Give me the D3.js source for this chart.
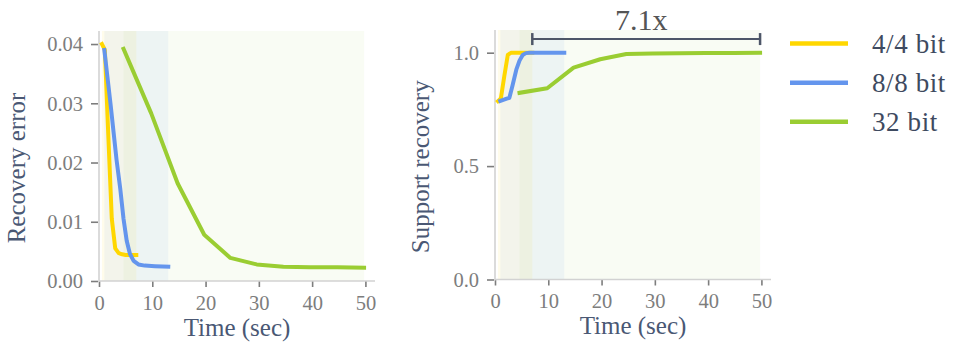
<!DOCTYPE html>
<html>
<head>
<meta charset="utf-8">
<script src="https://cdn.jsdelivr.net/npm/d3@7"></script>
<style>
  html, body { margin: 0; padding: 0; background: #ffffff; }
</style>
</head>
<body>
<svg id="chart" width="955" height="343"></svg>
<script>
// ---- data -------------------------------------------------------------
const seriesNames = ["4/4 bit", "8/8 bit", "32 bit"];

const time4 = [0.55, 1.1, 1.75, 2.4, 3.05, 3.7, 4.35, 5.0, 5.65, 6.3, 7.0];
const error4 = [0.0400, 0.0390, 0.0245, 0.0105, 0.0055, 0.0047, 0.0045, 0.0044, 0.0044, 0.0044, 0.0044];
const support4 = [0.786, 0.798, 0.897, 0.990, 1.0, 1.0, 1.0, 1.0, 1.0, 1.0, 1.0];

const time8 = [1.0, 2.2, 2.7, 3.3, 4.0, 4.6, 5.2, 5.8, 6.5, 7.4, 8.6, 10.5, 13.0];
const error8 = [0.0390, 0.0296, 0.0254, 0.0204, 0.0155, 0.0105, 0.0068, 0.0046, 0.0034, 0.0028, 0.0026, 0.0025, 0.0024];
const support8 = [0.787, 0.797, 0.801, 0.856, 0.925, 0.965, 0.990, 0.998, 1.0, 1.0, 1.0, 1.0, 1.0];

const time32 = [4.6, 9.8, 14.75, 19.75, 24.65, 29.6, 34.6, 39.6, 44.7, 49.75];
const error32 = [0.0392, 0.0283, 0.0165, 0.0078, 0.0039, 0.0028, 0.0024, 0.0023, 0.0023, 0.00225];
const support32 = [0.823, 0.843, 0.934, 0.971, 0.994, 0.996, 0.998, 0.999, 0.999, 1.0];

const xTicks = [0, 10, 20, 30, 40, 50];
const errorTicks = [0, 0.01, 0.02, 0.03, 0.04];
const supportTicks = [0, 0.5, 1.0];

// ---- styling ----------------------------------------------------------
const FONT = "'Liberation Serif', 'Times New Roman', serif";
const colors = ["#FFD700", "#6495ED", "#9ACD32"];
const spanAlpha = [0.08, 0.08, 0.055];
const tickColor = "#7d7d7d";
const titleColor = "#4a5874";
const legendColor = "#3e4a60";

const series = seriesNames.map((name, i) => ({
  name,
  color: colors[i],
  alpha: spanAlpha[i],
  time: [time4, time8, time32][i],
  error: [error4, error8, error32][i],
  support: [support4, support8, support32][i]
}));

const svg = d3.select("#chart").attr("font-family", FONT);

const panels = [
  { key: "error", left: 99, right: 375, top: 31, bottom: 281,
    yDomain: [0, 0.0422], yTicks: errorTicks, fmt: d3.format(".2f"),
    yTitle: "Recovery error", yTitleX: 25 },
  { key: "support", left: 495, right: 771, top: 30, bottom: 279.5,
    yDomain: [0, 1.1], yTicks: supportTicks, fmt: d3.format(".1f"),
    yTitle: "Support recovery", yTitleX: 429 }
];

panels.forEach(p => {
  const x = d3.scaleLinear().domain([0, 51.8]).range([p.left, p.right]);
  const y = d3.scaleLinear().domain(p.yDomain).range([p.bottom, p.top]);
  p.x = x; p.y = y;
  const g = svg.append("g");

  // time range covered by each run
  series.forEach(s => {
    const [t0, t1] = d3.extent(s.time);
    g.append("rect")
      .attr("x", x(t0)).attr("y", p.top)
      .attr("width", x(t1) - x(t0)).attr("height", p.bottom - p.top)
      .attr("fill", s.color).attr("fill-opacity", s.alpha);
  });

  // axes
  const xAxis = g.append("g").attr("transform", `translate(0,${p.bottom})`)
    .call(d3.axisBottom(x).tickValues(xTicks).tickSize(6).tickPadding(8).tickFormat(d3.format("d")));
  const yAxis = g.append("g").attr("transform", `translate(${p.left - 1},0)`)
    .call(d3.axisLeft(y).tickValues(p.yTicks).tickSize(7).tickPadding(8).tickFormat(p.fmt));
  [xAxis, yAxis].forEach(a => {
    a.attr("font-family", FONT);
    a.select(".domain").remove();
    a.selectAll(".tick line").attr("stroke", tickColor).attr("stroke-width", 1.6);
    a.selectAll(".tick text").attr("fill", tickColor).attr("font-family", FONT)
      .style("font-size", "20.5px");
  });
  xAxis.selectAll(".tick text").attr("dy", "0.71em");
  yAxis.selectAll(".tick text").attr("dy", "0.33em");

  // spines
  g.append("line").attr("x1", p.left).attr("x2", p.left)
    .attr("y1", p.top).attr("y2", p.bottom + 0.8)
    .attr("stroke", "#d2d2d2").attr("stroke-width", 1.6);
  g.append("line").attr("x1", p.left).attr("x2", p.right)
    .attr("y1", p.bottom).attr("y2", p.bottom)
    .attr("stroke", "#d2d2d2").attr("stroke-width", 1.6);

  // titles
  g.append("text").attr("x", (p.left + p.right) / 2).attr("y", p.bottom + 54.5)
    .attr("text-anchor", "middle").attr("fill", titleColor)
    .style("font-size", "25px").text("Time (sec)");
  g.append("text")
    .attr("transform", `translate(${p.yTitleX},${(p.top + p.bottom) / 2 + 12}) rotate(-90)`)
    .attr("text-anchor", "middle").attr("fill", titleColor)
    .style("font-size", "25px").text(p.yTitle);

  // lines
  series.forEach(s => {
    const line = d3.line().x((d, i) => x(s.time[i])).y(d => y(d));
    g.append("path").datum(s[p.key])
      .attr("d", line)
      .attr("fill", "none").attr("stroke", s.color)
      .attr("stroke-width", 4)
      .attr("stroke-linejoin", "round")
      .attr("stroke-linecap", "square");
  });
});

// speed-up bracket on the support panel
const sp = panels[1];
const tFast = d3.max(time4);
const tSlow = d3.max(time32);
const by = sp.y(1.06);
const bx1 = sp.x(tFast), bx2 = sp.x(tSlow);
const bracketColor = "#4d5668";
svg.append("line").attr("x1", bx1).attr("x2", bx2).attr("y1", by).attr("y2", by)
  .attr("stroke", bracketColor).attr("stroke-width", 2);
[bx1, bx2].forEach(bx => {
  svg.append("line").attr("x1", bx).attr("x2", bx).attr("y1", by - 6).attr("y2", by + 6)
    .attr("stroke", bracketColor).attr("stroke-width", 2.5);
});
svg.append("text").attr("x", (bx1 + bx2) / 2 - 5).attr("y", by - 9)
  .attr("text-anchor", "middle").attr("fill", "#555555")
  .style("font-size", "30px")
  .text(d3.format(".1f")(tSlow / tFast) + "x");

// legend
const legend = svg.append("g");
const legendY = d3.scaleOrdinal().domain(seriesNames).range([43.5, 82.7, 121.7]);
series.forEach(s => {
  const ly = legendY(s.name);
  legend.append("line").attr("x1", 790).attr("x2", 848).attr("y1", ly).attr("y2", ly)
    .attr("stroke", s.color).attr("stroke-width", 4.5);
  legend.append("text").attr("x", 872).attr("y", ly).attr("dy", "0.35em")
    .attr("fill", legendColor).style("font-size", "27px")
    .style("letter-spacing", "0.6px").text(s.name);
});
</script>
</body>
</html>
